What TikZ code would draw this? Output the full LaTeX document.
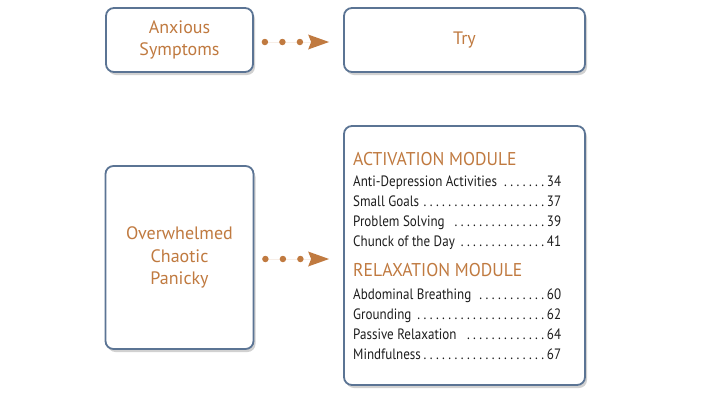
\documentclass[tikz,border=0pt]{standalone}
\usepackage{fontspec}
\setmainfont{PT Sans}[FakeStretch=0.87]
\newfontfamily\ttlfont{PT Sans}
\newfontfamily\headfont{PT Sans}[FakeStretch=0.95]
\usetikzlibrary{arrows.meta,shadows}
\definecolor{bordc}{HTML}{5B7494}
\definecolor{txtc}{HTML}{C07A40}
\definecolor{bodyc}{HTML}{1E1E1E}
\tikzset{
  box/.style={draw=bordc, line width=1.8pt, rounded corners=8pt, fill=white,
    drop shadow={shadow xshift=2pt, shadow yshift=-3pt, opacity=0.3, fill=black!60},
    inner sep=0pt},
  ttl/.style={text=txtc, font=\ttlfont\fontsize{18}{21.5}\selectfont, align=center},
  conn/.style={draw=txtc, fill=txtc, line width=6.5pt, line cap=round,
    dash pattern=on 0pt off 17.5pt,
    -{Stealth[length=21pt, width=15pt, inset=3pt, line width=0pt]}},
  head/.style={anchor=base west, inner sep=0pt, text=txtc, font=\headfont\fontsize{18.5}{20}\selectfont},
  item/.style={anchor=base west, inner sep=0pt, text=bodyc, font=\fontsize{15}{17}\selectfont},
}
\newcommand{\myleaders}{\leaders\hbox to 6.2pt{\hss.\kern1.2pt}\hfill}
\newcommand{\tocline}[2]{\makebox[208pt][l]{#1\myleaders#2}}
\begin{document}
\begin{tikzpicture}[x=1pt,y=-1pt]
\useasboundingbox (0,0) rectangle (704,400);
\node[box, minimum width=147pt, minimum height=64pt] (b1) at (179.5,40) {};
\node[box, minimum width=241pt, minimum height=64pt] (b2) at (464.5,40) {};
\node[box, minimum width=148pt, minimum height=183pt] (b3) at (179.5,257.5) {};
\node[box, minimum width=241pt, minimum height=259pt] (b4) at (464.5,255.5) {};
\node[ttl] (l1) at (b1) {Anxious\\Symptoms};
\node[ttl] (l2) at (b2) {Try};
\node[ttl, font=\ttlfont\fontsize{18}{22.5}\selectfont] (l3) at (b3) {Overwhelmed\\Chaotic\\Panicky};
\draw[conn, shorten <=11pt, shorten >=14pt] ([yshift=-2pt]b1.east) -- ([yshift=-2pt]b2.west);
\draw[conn, shorten <=11pt, shorten >=14pt] ([yshift=-1.5pt]b3.east) -- ([yshift=-3.5pt]b4.west);
\node[head] (h1) at (353,165) {ACTIVATION MODULE};
\node[item] (i1) at (353,186.7) {\tocline{Anti-Depression Activities}{34}};
\node[item] (i2) at (353,206.3) {\tocline{Small Goals}{37}};
\node[item] (i3) at (353,226) {\tocline{Problem Solving }{39}};
\node[item] (i4) at (353,246) {\tocline{Chunck of the Day}{41}};
\node[head] (h2) at (353,276.7) {RELAXATION MODULE};
\node[item] (i5) at (353,299) {\tocline{Abdominal Breathing }{60}};
\node[item] (i6) at (353,319) {\tocline{Grounding}{62}};
\node[item] (i7) at (353,339) {\tocline{Passive Relaxation }{64}};
\node[item] (i8) at (353,359) {\tocline{Mindfulness}{67}};
\end{tikzpicture}
\end{document}
